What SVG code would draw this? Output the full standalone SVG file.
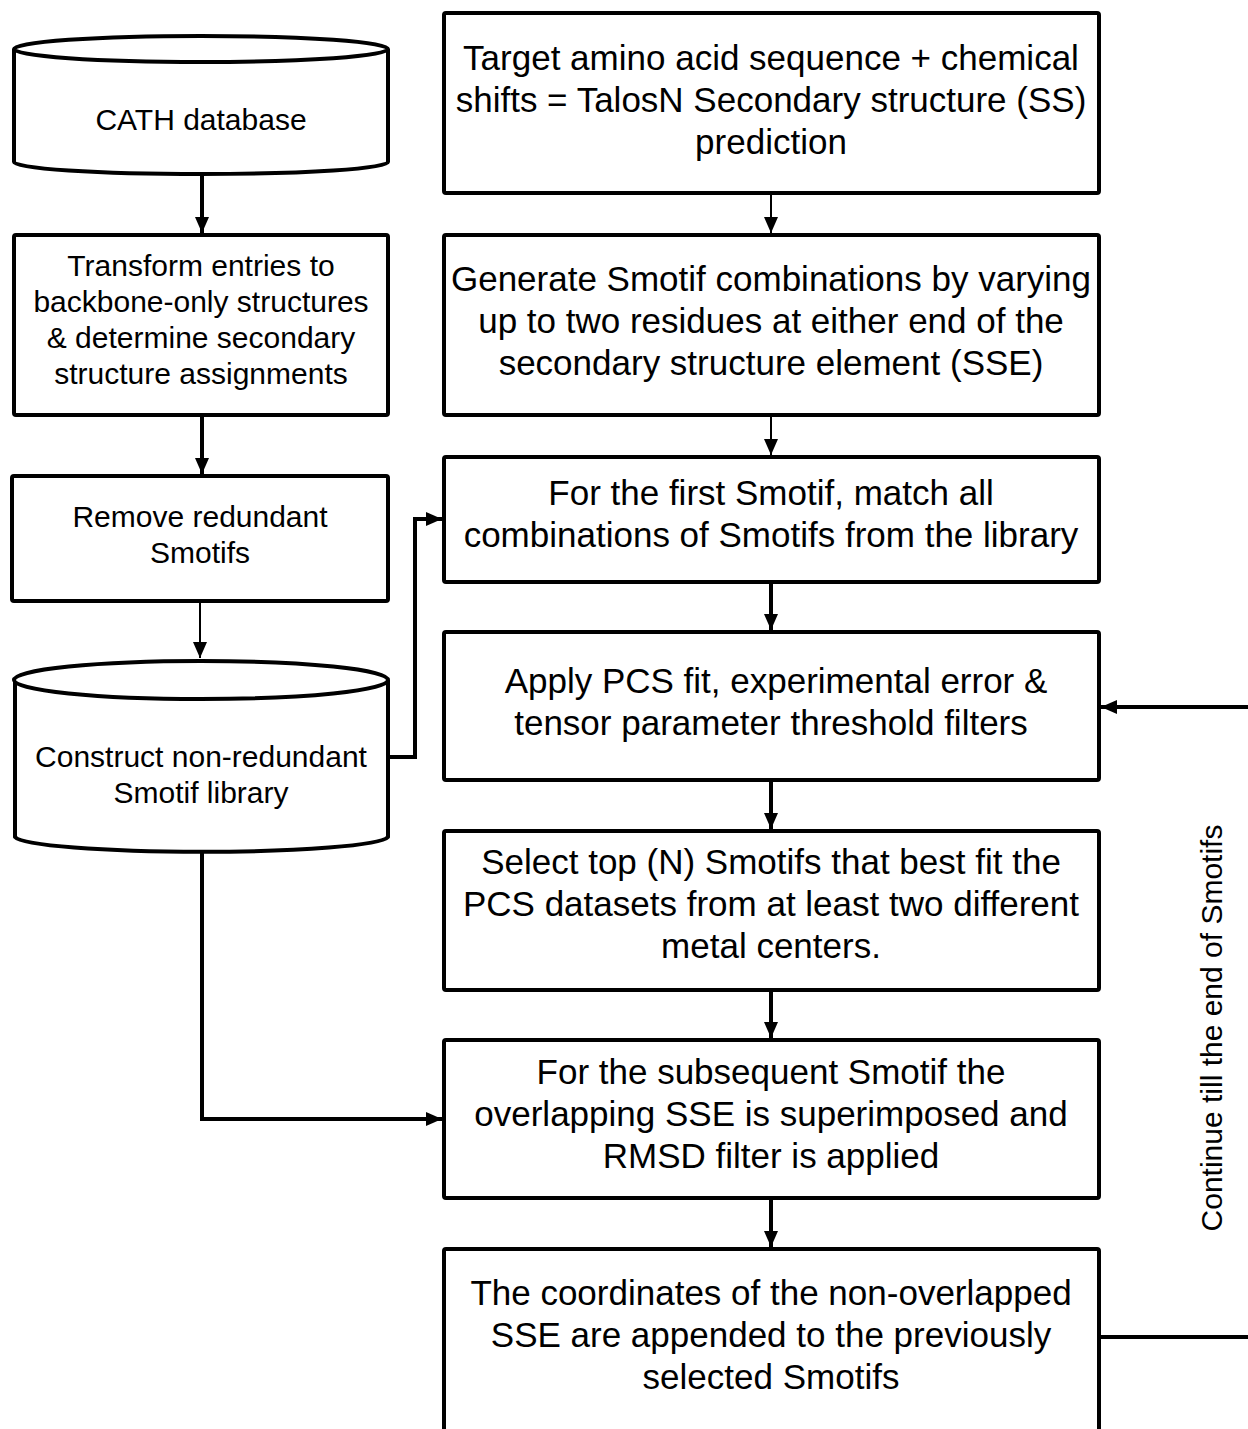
<svg xmlns="http://www.w3.org/2000/svg" width="1248" height="1429" viewBox="0 0 1248 1429">
<style>
.box{fill:#fff;stroke:#000;stroke-width:4;stroke-linejoin:round}
.t{font-family:"Liberation Sans",Arial,sans-serif;fill:#000;text-anchor:middle}
.r{font-size:35px}
.l{font-size:30px}
.c{fill:none;stroke:#000;stroke-width:4}
.cthin{fill:none;stroke:#000;stroke-width:2}
</style>
<defs>
<marker id="ah" markerUnits="userSpaceOnUse" viewBox="0 0 16 14" markerWidth="16" markerHeight="14" refX="16" refY="7" orient="auto">
<path d="M0,0 L16,7 L0,14 Z" fill="#000"/>
</marker>
</defs>
<rect width="1248" height="1429" fill="#fff"/>

<g id="connectors">
<line class="c" x1="202" y1="174" x2="202" y2="233" marker-end="url(#ah)"/>
<line class="c" x1="202" y1="415" x2="202" y2="474" marker-end="url(#ah)"/>
<line class="cthin" x1="200" y1="601" x2="200" y2="658" marker-end="url(#ah)"/>
<line class="cthin" x1="771" y1="193" x2="771" y2="233" marker-end="url(#ah)"/>
<line class="cthin" x1="771" y1="415" x2="771" y2="455" marker-end="url(#ah)"/>
<line class="c" x1="771" y1="582" x2="771" y2="630" marker-end="url(#ah)"/>
<line class="c" x1="771" y1="780" x2="771" y2="829" marker-end="url(#ah)"/>
<line class="c" x1="771" y1="990" x2="771" y2="1038" marker-end="url(#ah)"/>
<line class="c" x1="771" y1="1198" x2="771" y2="1247" marker-end="url(#ah)"/>
<polyline class="c" points="388,757 415,757 415,519 442,519" marker-end="url(#ah)"/>
<polyline class="c" points="202,853 202,1119 442,1119" marker-end="url(#ah)"/>
<line class="c" x1="1099" y1="1337" x2="1250" y2="1337"/>
<line class="c" x1="1250" y1="707" x2="1101" y2="707" marker-end="url(#ah)"/>
<text class="t" font-size="30" transform="translate(1222,1028) rotate(-90)">Continue till the end of Smotifs</text>
</g>

<g id="cath">
<path class="box" d="M14,49 L14,162 A187,12 0 0 0 388,162 L388,49"/>
<ellipse class="box" cx="201" cy="49" rx="187" ry="13"/>
<text class="t l" x="201" y="130">CATH database</text>
</g>

<g id="transform">
<rect class="box" x="14" y="235" width="374" height="180" rx="2"/>
<text class="t l" x="201" y="276">Transform entries to</text>
<text class="t l" x="201" y="312">backbone-only structures</text>
<text class="t l" x="201" y="348">&amp; determine secondary</text>
<text class="t l" x="201" y="384">structure assignments</text>
</g>

<g id="remove">
<rect class="box" x="12" y="476" width="376" height="125" rx="2"/>
<text class="t l" x="200" y="527">Remove redundant</text>
<text class="t l" x="200" y="563">Smotifs</text>
</g>

<g id="library">
<path class="box" d="M15,680 L15,837 A187,16 0 0 0 388,837 L388,680"/>
<ellipse class="box" cx="201" cy="680" rx="187" ry="19"/>
<text class="t l" x="201" y="767">Construct non-redundant</text>
<text class="t l" x="201" y="803">Smotif library</text>
</g>

<g id="target">
<rect class="box" x="444" y="13" width="655" height="180" rx="2"/>
<text class="t r" x="771" y="70">Target amino acid sequence + chemical</text>
<text class="t r" x="771" y="112">shifts = TalosN Secondary structure (SS)</text>
<text class="t r" x="771" y="154">prediction</text>
</g>

<g id="generate">
<rect class="box" x="444" y="235" width="655" height="180" rx="2"/>
<text class="t r" x="771" y="291">Generate Smotif combinations by varying</text>
<text class="t r" x="771" y="333">up to two residues at either end of the</text>
<text class="t r" x="771" y="375">secondary structure element (SSE)</text>
</g>

<g id="first">
<rect class="box" x="444" y="457" width="655" height="125" rx="2"/>
<text class="t r" x="771" y="505">For the first Smotif, match all</text>
<text class="t r" x="771" y="547">combinations of Smotifs from the library</text>
</g>

<g id="pcs">
<rect class="box" x="444" y="632" width="655" height="148" rx="2"/>
<text class="t r" x="776" y="693">Apply PCS fit, experimental error &amp;</text>
<text class="t r" x="771" y="735">tensor parameter threshold filters</text>
</g>

<g id="select">
<rect class="box" x="444" y="831" width="655" height="159" rx="2"/>
<text class="t r" x="771" y="874">Select top (N) Smotifs that best fit the</text>
<text class="t r" x="771" y="916">PCS datasets from at least two different</text>
<text class="t r" x="771" y="958">metal centers.</text>
</g>

<g id="subsequent">
<rect class="box" x="444" y="1040" width="655" height="158" rx="2"/>
<text class="t r" x="771" y="1084">For the subsequent Smotif the</text>
<text class="t r" x="771" y="1126">overlapping SSE is superimposed and</text>
<text class="t r" x="771" y="1168">RMSD filter is applied</text>
</g>

<g id="append">
<rect class="box" x="444" y="1249" width="655" height="182" rx="2"/>
<text class="t r" x="771" y="1305">The coordinates of the non-overlapped</text>
<text class="t r" x="771" y="1347">SSE are appended to the previously</text>
<text class="t r" x="771" y="1389">selected Smotifs</text>
</g>
</svg>
